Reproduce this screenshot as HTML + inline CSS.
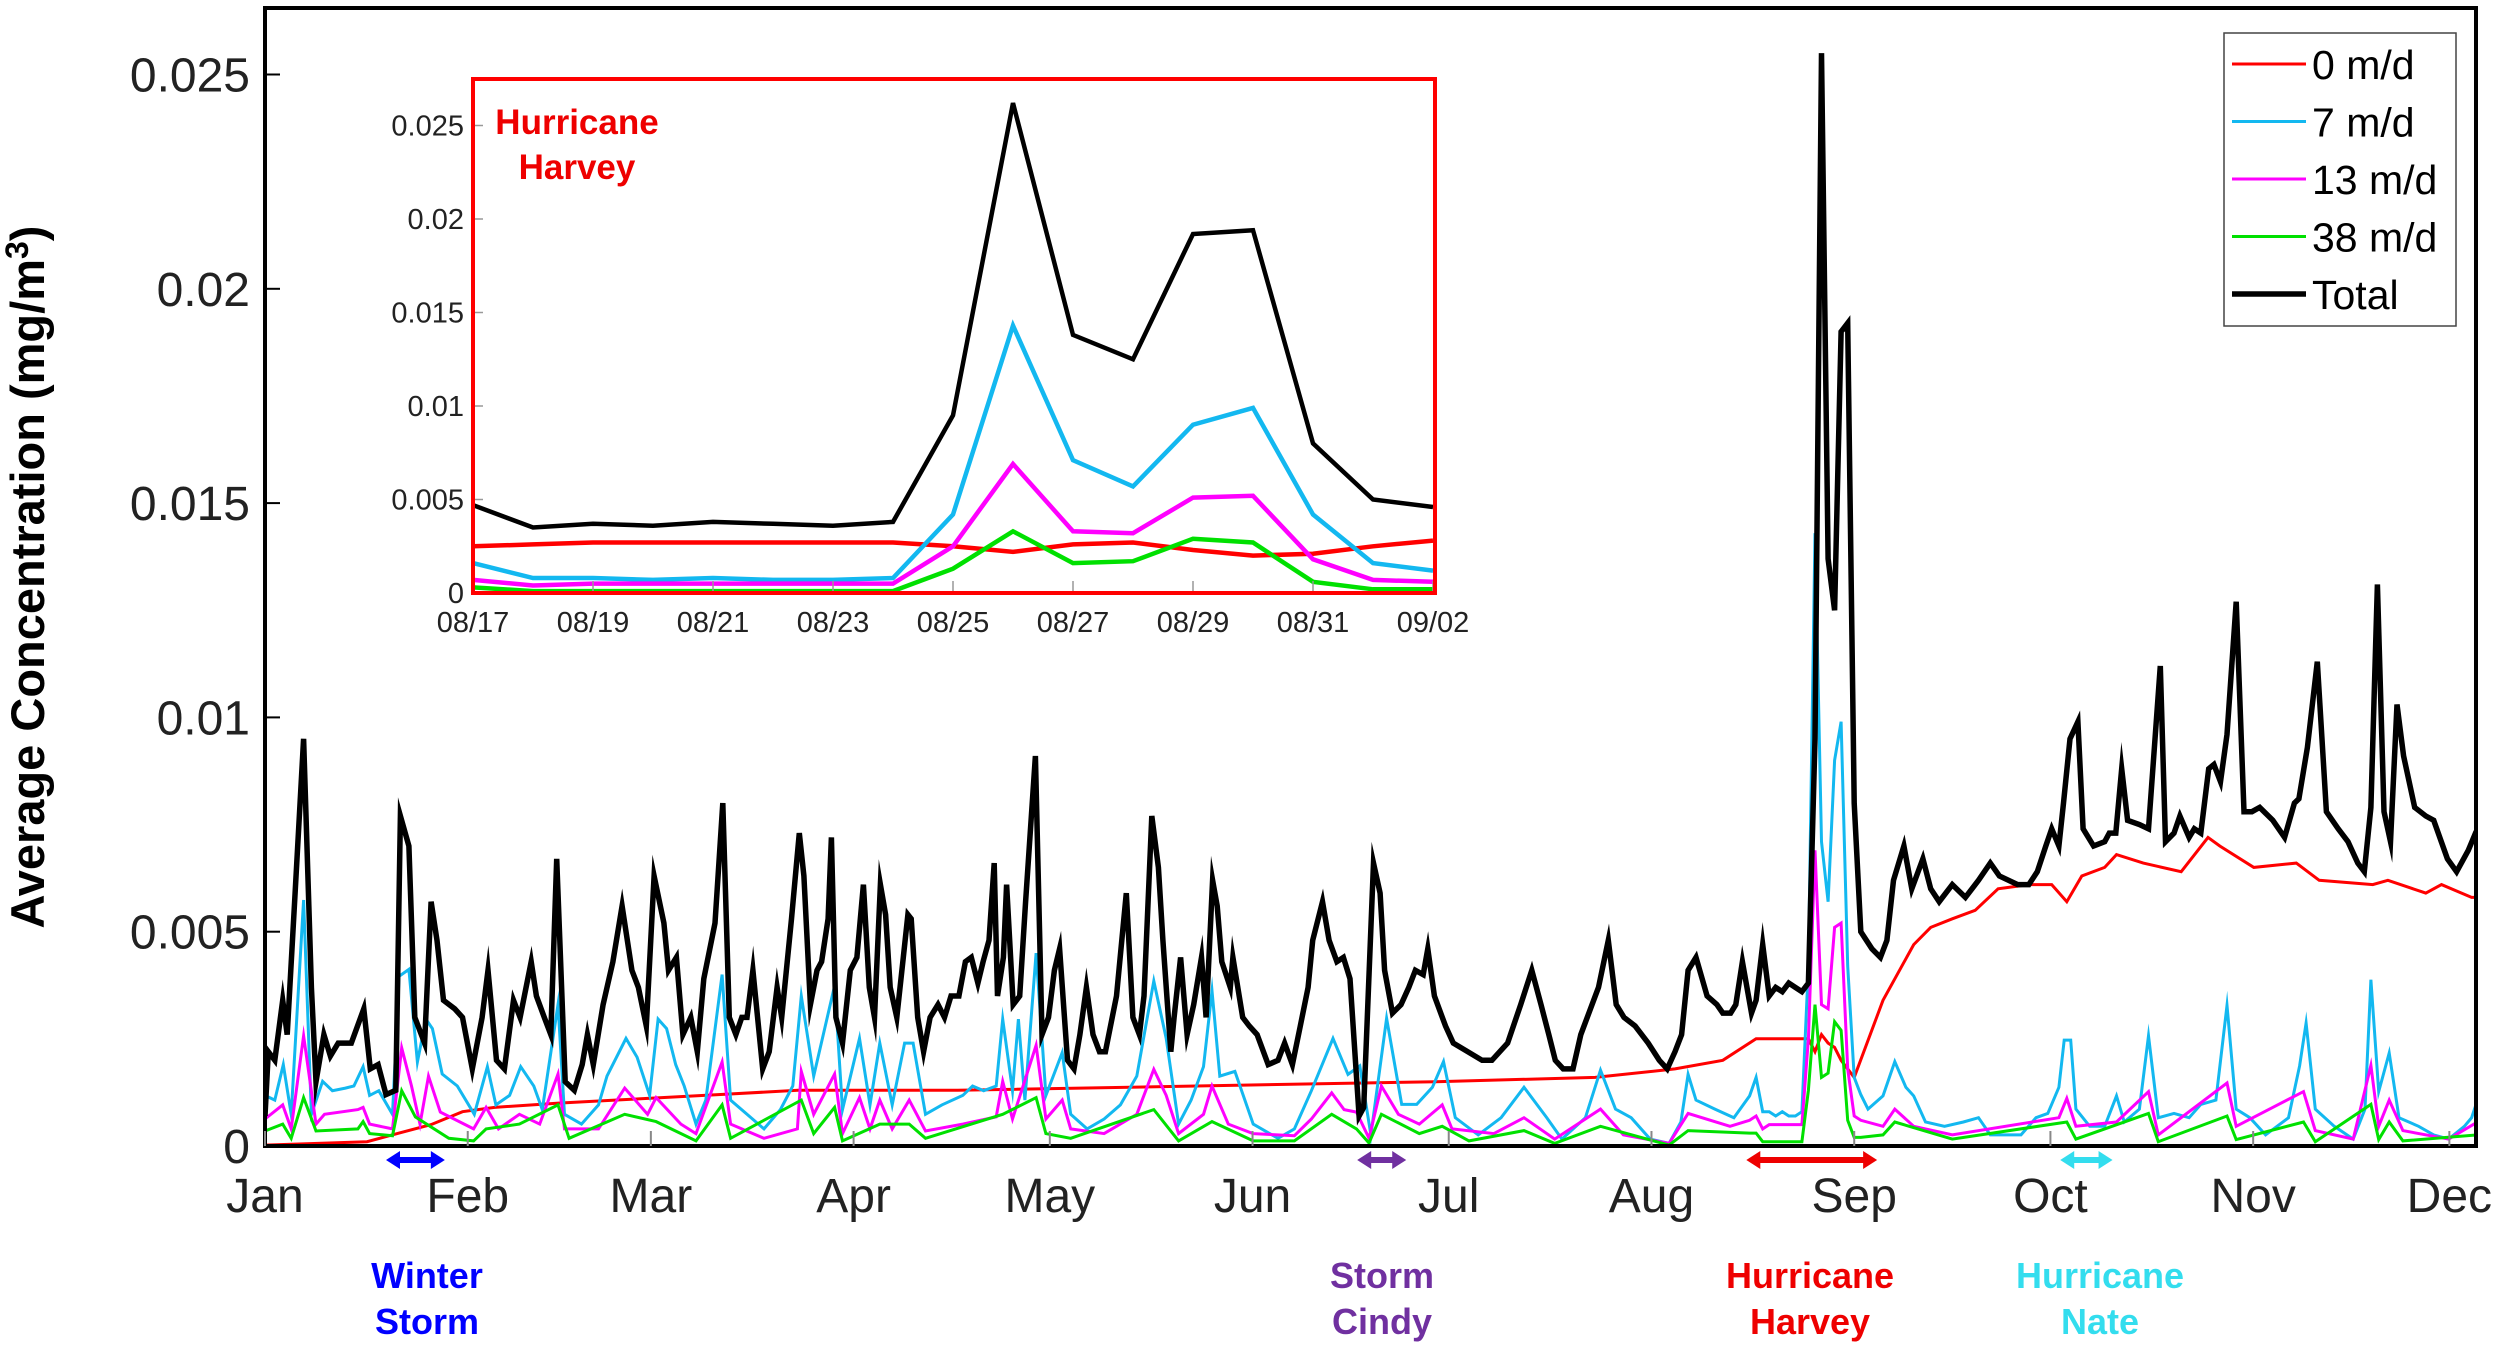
<!DOCTYPE html>
<html><head><meta charset="utf-8"><style>
html,body{margin:0;padding:0;background:#fff;}
svg{display:block;font-family:"Liberation Sans",Arial,sans-serif;}
</style></head><body>
<svg id="chart" width="2500" height="1347" viewBox="0 0 2500 1347" xmlns="http://www.w3.org/2000/svg">
<defs><clipPath id="plotclip"><rect x="265" y="8" width="2211" height="1140"/></clipPath>
<clipPath id="insetclip"><rect x="473" y="79" width="962" height="514"/></clipPath></defs>
<rect x="0" y="0" width="2500" height="1347" fill="#fff"/>
<g id="main-lines" clip-path="url(#plotclip)"></g>
<g id="axes"></g>
<g id="inset"></g>
<g id="annot"></g>
</svg>
<script>
// values in units of 1e-3 mg/m3, days since Jan 1
const monthLabels=["Jan","Feb","Mar","Apr","May","Jun","Jul","Aug","Sep","Oct","Nov","Dec"];
const monthDays=[0,31,59,90,120,151,181,212,243,273,304,334];
const yTicks=[0,5,10,15,20,25];
const yTickLabels=["0","0.005","0.01","0.015","0.02","0.025"];

const totalDays=[0,0.5,1.5,2.7,3.4,4.6,5.9,7.1,7.8,9,10,11.2,13.2,15.1,16.1,17.3,18.5,20,20.7,22,22.9,24.4,25.4,26.3,27.3,29,30.2,31.7,33.2,34.1,35.4,36.6,38,39,40.7,41.5,42.7,43.7,44.6,45.9,47.3,48.5,49.3,50.2,51.7,53.2,54.6,56.1,57.1,58.3,59.5,61,61.7,62.9,63.9,65.1,66.1,67.1,68.8,70,71,72,72.9,73.7,74.6,76.1,77.1,78.3,79,80.5,81.7,82.4,83.4,84.4,85.1,86.1,86.6,87.3,88.3,89.5,90.5,91.5,92.4,93.2,94.1,94.9,95.6,96.6,97.6,98.3,98.8,99.8,100.7,101.7,102.9,103.9,104.9,106.1,107.1,108,109,109.8,110.7,111.5,112,112.9,113.4,114.4,115.4,116.3,117.8,118.8,119.8,120.7,121.5,122.7,123.7,124.6,125.6,126.6,127.6,128.5,130.2,131.7,132.7,133.7,134.4,135.6,136.6,137.3,138.5,139,140,141,142,143.2,143.9,144.9,145.6,146.3,147.6,148,149.5,150.5,151.7,153.4,154.9,155.9,157.1,158.3,159.5,160.2,161.7,162.7,163.9,164.9,165.9,167.3,168,169.5,170.5,171.2,172.4,173.7,174.9,175.9,177.1,177.8,178.8,180.5,181.7,183.9,186.1,187.6,190,192,193.7,195.1,196.3,197.3,198.5,200,201.2,203.9,205.4,206.6,207.8,209.5,211.5,213.2,214.4,215.6,216.6,217.6,218.8,220.5,222,222.9,224.1,224.9,225.9,227.3,
228,229,230,231,232,233,234,235,236,237,238,239,240,241,242,243,244,
245.7,247,248,249,250.6,251.8,253.5,254.7,256,258,260,262,263.8,265.2,268,269.7,271,272.3,273.2,274.3,275,276,277.2,278,279.6,281.3,282,283,283.9,284.8,286.6,288,289.8,290.6,291.9,292.8,294.2,295,296,297.2,298,299,300,301.4,302.6,303.8,305,307,308.8,310.3,311,312.3,313.8,315.2,317,318.5,320,321,322,323,324,325,326,327,328.7,330.4,331.6,333.7,335.1,336.9,338,338.3];
const totalVals=[0.7,2.2,2.0,3.4,2.6,5.9,9.5,3.7,1.5,2.6,2.1,2.4,2.4,3.2,1.8,1.9,1.2,1.3,7.7,7.0,3.0,2.4,5.7,4.8,3.4,3.2,3.0,1.8,3.0,4.1,2.0,1.8,3.4,3.0,4.3,3.5,3.0,2.6,6.7,1.5,1.3,1.9,2.6,1.9,3.3,4.3,5.6,4.1,3.7,2.8,6.3,5.2,4.1,4.4,2.6,3.0,2.2,3.9,5.2,8.0,3.0,2.6,3.0,3.0,4.1,1.8,2.2,3.7,3.0,5.3,7.3,6.3,3.3,4.1,4.3,5.3,7.2,3.0,2.4,4.1,4.4,6.1,3.7,3.0,6.1,5.4,3.7,3.0,4.4,5.4,5.3,3.0,2.2,3.0,3.3,3.0,3.5,3.5,4.3,4.4,3.8,4.3,4.8,6.6,3.5,4.4,6.1,3.3,3.5,5.7,9.1,2.6,3.0,4.1,4.6,2.0,1.8,2.6,3.7,2.6,2.2,2.2,3.5,5.9,3.0,2.6,3.5,7.7,6.5,4.8,2.2,3.0,4.4,2.6,3.3,4.4,3.0,6.2,5.6,4.3,3.7,4.4,3.0,2.8,2.6,1.9,2.0,2.4,1.9,2.8,3.7,4.8,5.7,4.8,4.3,4.4,3.9,0.7,0.9,6.6,5.9,4.1,3.1,3.3,3.7,4.1,4.0,4.6,3.5,2.8,2.4,2.2,2.0,2.0,2.4,3.3,4.1,3.3,2.6,2.0,1.8,1.8,2.6,3.7,4.8,3.3,3.0,2.8,2.4,2.0,1.8,2.2,2.6,4.1,4.4,3.5,3.3,3.1,3.1,3.3,4.3,3.1,3.4,
4.7,3.5,3.7,3.6,3.8,3.7,3.6,3.8,9.5,25.5,13.7,12.5,19.0,19.2,8.0,5.0,4.6,
4.4,4.8,6.2,7.0,6.0,6.7,6.0,5.7,6.1,5.8,6.2,6.6,6.3,6.1,6.1,6.4,7.0,7.4,7.0,8.0,9.5,9.9,7.4,7.0,7.1,7.3,7.3,8.8,7.6,7.5,7.4,11.2,7.1,7.3,7.7,7.2,7.4,7.3,8.8,8.9,8.5,9.6,12.7,7.8,7.8,7.9,7.6,7.2,8.0,8.1,9.3,11.3,7.8,7.4,7.1,6.6,6.4,7.9,13.1,7.8,7.1,10.3,9.1,7.9,7.7,7.6,6.7,6.4,6.9,7.3,7.3,7.9];

const redDays=[0,15.6,20.5,25.4,30.2,35.1,44.9,57.1,69.3,81.5,105.9,142.4,179,203.4,215.6,222.9,228,236,237,238,239,240,241,242,243,247.4,252.1,254.7,258,261.5,265,269.7,273.2,275.5,277.8,281.3,283.1,287.2,293,297.1,298.9,304.1,310.6,314.1,322.3,324.6,330.4,332.8,337.4,338.3];
const redVals=[0.02,0.1,0.3,0.5,0.8,0.9,1.0,1.1,1.2,1.3,1.3,1.4,1.5,1.6,1.8,2.0,2.5,2.5,2.2,2.6,2.4,2.3,2.0,1.8,1.6,3.4,4.7,5.1,5.3,5.5,6.0,6.1,6.1,5.7,6.3,6.5,6.8,6.6,6.4,7.2,7.0,6.5,6.6,6.2,6.1,6.2,5.9,6.1,5.8,5.8];

const cyanDays=[0,1.5,2.8,4,5.9,7.1,8.8,10.3,12.3,13.6,15,16,17.4,19.5,20.5,22,23.3,24.6,25.6,27.1,29.4,32,34,35.3,37.4,39.1,41.1,42.4,44.8,45.8,48.4,51,52.3,55.2,56.9,58.8,60.1,61.4,62.8,64.1,65.9,67.4,69.9,71.2,73.7,76.3,78.8,80.7,82,83.9,87.1,88.3,90.9,92.5,94,95.9,97.8,99.1,101,103.5,106.7,108.2,109.9,111.8,112.8,114.3,115.2,116.2,117.9,119.4,121.9,123.2,125.7,128.3,130.8,133.3,135.9,137.8,139.7,141.6,143.5,144.8,146,148.3,151.1,154.9,157.4,160,
163.3,165.6,167.4,169.1,171.5,173.8,176.1,178.5,180.2,182,185.5,189,192.5,196,198.3,201.9,204.2,206.5,208.9,211.8,214.7,216.5,217.6,218.8,221.7,224.6,227,
228,229,230,231,232,233,234,235,236,237,238,239,240,241,242,243,244,
245.1,247.4,249.2,250.9,252.1,253.9,256.8,259.7,262,263.8,268.5,270.8,272.6,274.3,275.1,276.1,276.9,279,281.3,283.1,284.3,286.6,288,289.5,291.9,294.2,296,298.3,300,301.4,303.5,305.9,309.4,311.1,312.1,313.5,316.4,319.3,321.1,322,323.2,324.8,326.3,329.3,331.6,333.9,336.3,337.4,338.3];
const cyanVals=[1.18,1.07,1.9,0.74,5.74,0.74,1.51,1.29,1.35,1.4,1.85,1.18,1.29,0.74,3.96,4.12,1.96,2.96,2.74,1.68,1.4,0.74,1.85,0.96,1.18,1.85,1.4,0.85,3.3,0.74,0.51,0.96,1.63,2.51,2.07,1.18,2.96,2.74,1.9,1.4,0.51,1.07,4.0,1.07,0.74,0.4,0.85,1.4,3.5,1.63,3.74,0.85,2.51,0.96,2.4,0.96,2.4,2.4,0.74,0.96,1.18,1.4,1.29,1.4,2.96,1.29,2.96,1.07,4.5,1.18,2.18,0.74,0.4,0.63,0.96,1.63,3.85,2.51,0.51,1.07,1.85,3.62,1.63,1.74,0.51,0.18,0.4,1.29,
2.51,1.67,1.87,0.26,2.98,0.97,0.97,1.37,1.97,0.66,0.26,0.66,1.37,0.66,0.16,0.66,1.77,0.86,0.66,0.16,0.06,0.56,1.67,1.07,0.86,0.66,1.17,
1.6,0.8,0.8,0.7,0.8,0.7,0.7,0.8,4.2,14.3,7.1,5.7,9.0,9.9,4.2,1.6,1.2,
0.86,1.17,1.97,1.37,1.17,0.56,0.46,0.56,0.66,0.26,0.26,0.66,0.76,1.37,2.47,2.47,0.86,0.46,0.46,1.17,0.56,0.86,2.57,0.66,0.76,0.66,0.97,1.07,3.28,0.86,0.66,0.26,0.66,1.87,2.87,0.86,0.46,0.16,0.86,3.88,1.27,2.17,0.66,0.46,0.26,0.16,0.46,0.66,1.07];

const magDays=[0,2.7,4,5.9,7.8,9.1,14.2,15,16,19.5,20.9,22.4,23.7,25,26.8,31.9,33.8,35.7,38.9,42,44.8,45.8,51,55,58.5,59.8,63.6,65.9,69.9,71.2,76.3,81.4,82,83.9,87.1,88.3,90.9,92.5,94,95.9,98.5,101,106.7,111.8,112.8,114.3,117.9,119.4,121.9,123.2,128.3,133.3,135.9,137.8,139.7,143.5,144.8,147.3,151.1,157.4,160,163.1,165,166.9,168.8,170.7,173.3,176.5,180,181.5,187.9,
192.5,197.2,204.2,207.7,214.7,217.6,224,227,
228,229,230,231,232,233,234,235,236,237,238,239,240,241,242,243,244,
247.4,249.2,252.1,258,274.3,275.5,276.9,283.1,288,289.5,300,301.4,311.7,313.5,319.3,322,323.2,324.8,326.9,333.9,338.3];
const magVals=[0.63,0.96,0.4,2.57,0.51,0.74,0.85,0.9,0.51,0.4,2.29,1.4,0.51,1.63,0.79,0.4,0.9,0.4,0.74,0.51,1.68,0.4,0.4,1.35,0.74,1.13,0.51,0.29,1.96,0.51,0.18,0.4,1.74,0.74,1.68,0.29,1.13,0.4,1.07,0.4,1.07,0.35,0.51,0.68,1.51,0.63,2.35,0.63,1.07,0.4,0.29,0.74,1.79,1.18,0.29,0.74,1.4,0.51,0.29,0.24,0.63,1.24,0.85,0.79,0.18,1.4,0.74,0.51,0.96,0.4,0.29,
0.66,0.16,0.86,0.26,0.06,0.76,0.46,0.6,
0.7,0.4,0.5,0.5,0.5,0.5,0.5,0.5,2.5,6.9,3.3,3.2,5.1,5.2,1.8,0.7,0.6,
0.46,0.86,0.46,0.26,0.66,1.11,0.46,0.56,1.27,0.26,1.47,0.46,1.27,0.36,0.16,1.88,0.46,1.07,0.36,0.16,0.56];

const greenDays=[0,2.7,4,5.9,7.8,14.2,15,16,19.5,20.9,23,28.1,31.9,33.8,38.9,44.8,46.5,55,59.8,65.9,69.9,71.2,82,83.9,87.1,88.3,94,98.5,101,112.8,117.9,119.4,123.2,135.9,139.7,144.8,151.1,157.4,163.1,166.9,168.8,170.7,176.5,180,184.1,
192.5,197.2,204.2,214.7,217.6,227,
228,229,230,231,232,233,234,235,236,237,238,239,240,241,242,243,244,
247.4,249.2,258,275.5,276.9,288,289.5,300,301.4,311.7,313.5,322,323.2,324.8,326.9,338.3];
const greenVals=[0.35,0.51,0.18,1.13,0.35,0.4,0.57,0.29,0.24,1.29,0.68,0.18,0.12,0.4,0.51,0.96,0.18,0.74,0.57,0.12,0.96,0.18,1.07,0.29,0.9,0.12,0.51,0.51,0.18,0.74,1.13,0.29,0.18,0.85,0.12,0.57,0.12,0.12,0.74,0.4,0.07,0.74,0.29,0.46,0.12,
0.36,0.06,0.46,0.02,0.36,0.3,
0.3,0.1,0.1,0.1,0.1,0.1,0.1,0.1,1.3,3.3,1.6,1.7,2.9,2.7,0.6,0.2,0.2,
0.26,0.56,0.16,0.56,0.16,0.76,0.1,0.7,0.15,0.56,0.1,0.97,0.15,0.56,0.12,0.26];

// inset (Aug 17 - Sep 2, daily)
const insetLabels=["08/17","08/19","08/21","08/23","08/25","08/27","08/29","08/31","09/02"];
const insetYTicks=[0,5,10,15,20,25];
const insetYLabels=["0","0.005","0.01","0.015","0.02","0.025"];
const insetTotal=[4.7,3.5,3.7,3.6,3.8,3.7,3.6,3.8,9.5,26.2,13.8,12.5,19.2,19.4,8.0,5.0,4.6];
const insetRed=[2.5,2.6,2.7,2.7,2.7,2.7,2.7,2.7,2.5,2.2,2.6,2.7,2.3,2.0,2.1,2.5,2.8];
const insetCyan=[1.6,0.8,0.8,0.7,0.8,0.7,0.7,0.8,4.2,14.3,7.1,5.7,9.0,9.9,4.2,1.6,1.2];
const insetMag=[0.7,0.4,0.5,0.5,0.5,0.5,0.5,0.5,2.5,6.9,3.3,3.2,5.1,5.2,1.8,0.7,0.6];
const insetGreen=[0.3,0.1,0.1,0.1,0.1,0.1,0.1,0.1,1.3,3.3,1.6,1.7,2.9,2.7,0.6,0.2,0.2];

const NS="http://www.w3.org/2000/svg";
function X(d){return 265+d*6.54;}
function Y(v){return 1146-v*42.86;}
function IX(i){return 473+i*60;}
function IY(v){return 593-v*18.7;}
function mk(tag,attrs,parent){const e=document.createElementNS(NS,tag);for(const k in attrs)e.setAttribute(k,attrs[k]);parent.appendChild(e);return e;}

const lines=document.getElementById('main-lines');
const axes=document.getElementById('axes');
const inset=document.getElementById('inset');
const annot=document.getElementById('annot');

function drawSeries(days,vals,color,w,name){
  const n=Math.min(days.length,vals.length);let d="";
  for(let i=0;i<n;i++)d+=(i?"L":"M")+X(days[i]).toFixed(1)+","+Y(vals[i]).toFixed(1);
  const p=mk('path',{d:d,fill:'none',stroke:color,'stroke-width':w,'stroke-linejoin':'miter','stroke-miterlimit':10},lines);
  
  
}
drawSeries(redDays,redVals,'#ff0000',3,'line-0-md');
drawSeries(cyanDays,cyanVals,'#13b8f0',3,'line-7-md');
drawSeries(magDays,magVals,'#ff00ff',3,'line-13-md');
drawSeries(greenDays,greenVals,'#00e000',3,'line-38-md');
drawSeries(totalDays,totalVals,'#000000',5.5,'line-total');

// frame
const fr=mk('rect',{x:265,y:8,width:2211,height:1138,fill:'none',stroke:'#000','stroke-width':4},axes);


yTicks.forEach((t,i)=>{
  mk('line',{x1:265,x2:280,y1:Y(t),y2:Y(t),stroke:'#000','stroke-width':2},axes);
  const tx=mk('text',{x:250,y:Y(t)+17,'text-anchor':'end','font-size':48,fill:'#222'},axes);
  tx.textContent=yTickLabels[i];
  
  
});
monthDays.forEach((d,i)=>{
  mk('line',{x1:X(d),x2:X(d),y1:1146,y2:1131,stroke:'#888','stroke-width':2},axes);
  const tx=mk('text',{x:X(d),y:1212,'text-anchor':'middle','font-size':48,fill:'#222'},axes);
  tx.textContent=monthLabels[i];
  
  
});
const yl=mk('text',{x:0,y:0,transform:'translate(44,577) rotate(-90)','text-anchor':'middle','font-size':47,'font-weight':'bold',fill:'#000'},axes);
yl.innerHTML='Average Concentration (mg/m<tspan font-size="32" dy="-16">3</tspan><tspan dy="16">)</tspan>';



// legend
const lg=mk('g',{},axes);


mk('rect',{x:2224,y:33,width:232,height:293,fill:'#fff',stroke:'#444','stroke-width':1.5},lg);
const legNames=["0 m/d","7 m/d","13 m/d","38 m/d","Total"];
const legColors=["#ff0000","#13b8f0","#ff00ff","#00e000","#000"];
const legW=[3,3,3,3,5.5];
legNames.forEach((nm,i)=>{
  const y=64+i*57.5;
  const g=mk('g',{},lg);
  
  
  mk('line',{x1:2232,x2:2306,y1:y,y2:y,stroke:legColors[i],'stroke-width':legW[i]},g);
  const t=mk('text',{x:2312,y:y+15,'font-size':41,fill:'#000'},g);
  t.textContent=nm;
});

// inset
mk('rect',{x:473,y:79,width:962,height:514,fill:'#fff'},inset);
const ig=mk('g',{'clip-path':'url(#insetclip)'},inset);
function drawInset(vals,color,w,name){
  let d="";vals.forEach((v,i)=>{d+=(i?"L":"M")+IX(i).toFixed(1)+","+IY(v).toFixed(1);});
  const p=mk('path',{d:d,fill:'none',stroke:color,'stroke-width':w},ig);
  
  
}
insetLabels.forEach((l,i)=>{
  mk('line',{x1:IX(i*2),x2:IX(i*2),y1:593,y2:581,stroke:'#999','stroke-width':1.5},inset);
  const t=mk('text',{x:IX(i*2),y:632,'text-anchor':'middle','font-size':29,fill:'#222'},inset);
  t.textContent=l;
  
  
});
insetYTicks.forEach((v,i)=>{
  mk('line',{x1:473,x2:483,y1:IY(v),y2:IY(v),stroke:'#999','stroke-width':1.5},inset);
  const t=mk('text',{x:464,y:IY(v)+10,'text-anchor':'end','font-size':29,fill:'#222'},inset);
  t.textContent=insetYLabels[i];
  
  
});
drawInset(insetRed,'#ff0000',4.5,'inset-line-0-md');
drawInset(insetCyan,'#13b8f0',4.5,'inset-line-7-md');
drawInset(insetMag,'#ff00ff',4.5,'inset-line-13-md');
drawInset(insetGreen,'#00e000',4.5,'inset-line-38-md');
drawInset(insetTotal,'#000',4.5,'inset-line-total');
const ib=mk('rect',{x:473,y:79,width:962,height:514,fill:'none',stroke:'#ff0000','stroke-width':4},inset);


const it=mk('text',{x:577,y:134,'text-anchor':'middle','font-size':35,'font-weight':'bold',fill:'#ee0000'},inset);
it.innerHTML='Hurricane<tspan x="577" dy="45">Harvey</tspan>';



// event annotations
const events=[
 {name:'winter-storm',l1:'Winter',l2:'Storm',d0:18.5,d1:27.5,cx:427,color:'#0000ff'},
 {name:'storm-cindy',l1:'Storm',l2:'Cindy',d0:167,d1:174.5,cx:1382,color:'#7030a0'},
 {name:'hurricane-harvey',l1:'Hurricane',l2:'Harvey',d0:226.5,d1:246.5,cx:1810,color:'#ee0000'},
 {name:'hurricane-nate',l1:'Hurricane',l2:'Nate',d0:274.5,d1:282.5,cx:2100,color:'#33ddee'}
];
events.forEach(e=>{
  const g=mk('g',{},annot);
  
  
  const x0=X(e.d0),x1=X(e.d1),y=1160;
  mk('line',{x1:x0+10,x2:x1-10,y1:y,y2:y,stroke:e.color,'stroke-width':6},g);
  mk('polygon',{points:`${x0},${y} ${x0+14},${y-9} ${x0+14},${y+9}`,fill:e.color},g);
  mk('polygon',{points:`${x1},${y} ${x1-14},${y-9} ${x1-14},${y+9}`,fill:e.color},g);
  const t=mk('text',{x:e.cx,y:1288,'text-anchor':'middle','font-size':36,'font-weight':'bold',fill:e.color},g);
  t.innerHTML=e.l1+`<tspan x="${e.cx}" dy="46">${e.l2}</tspan>`;
});
</script>
</body></html>
